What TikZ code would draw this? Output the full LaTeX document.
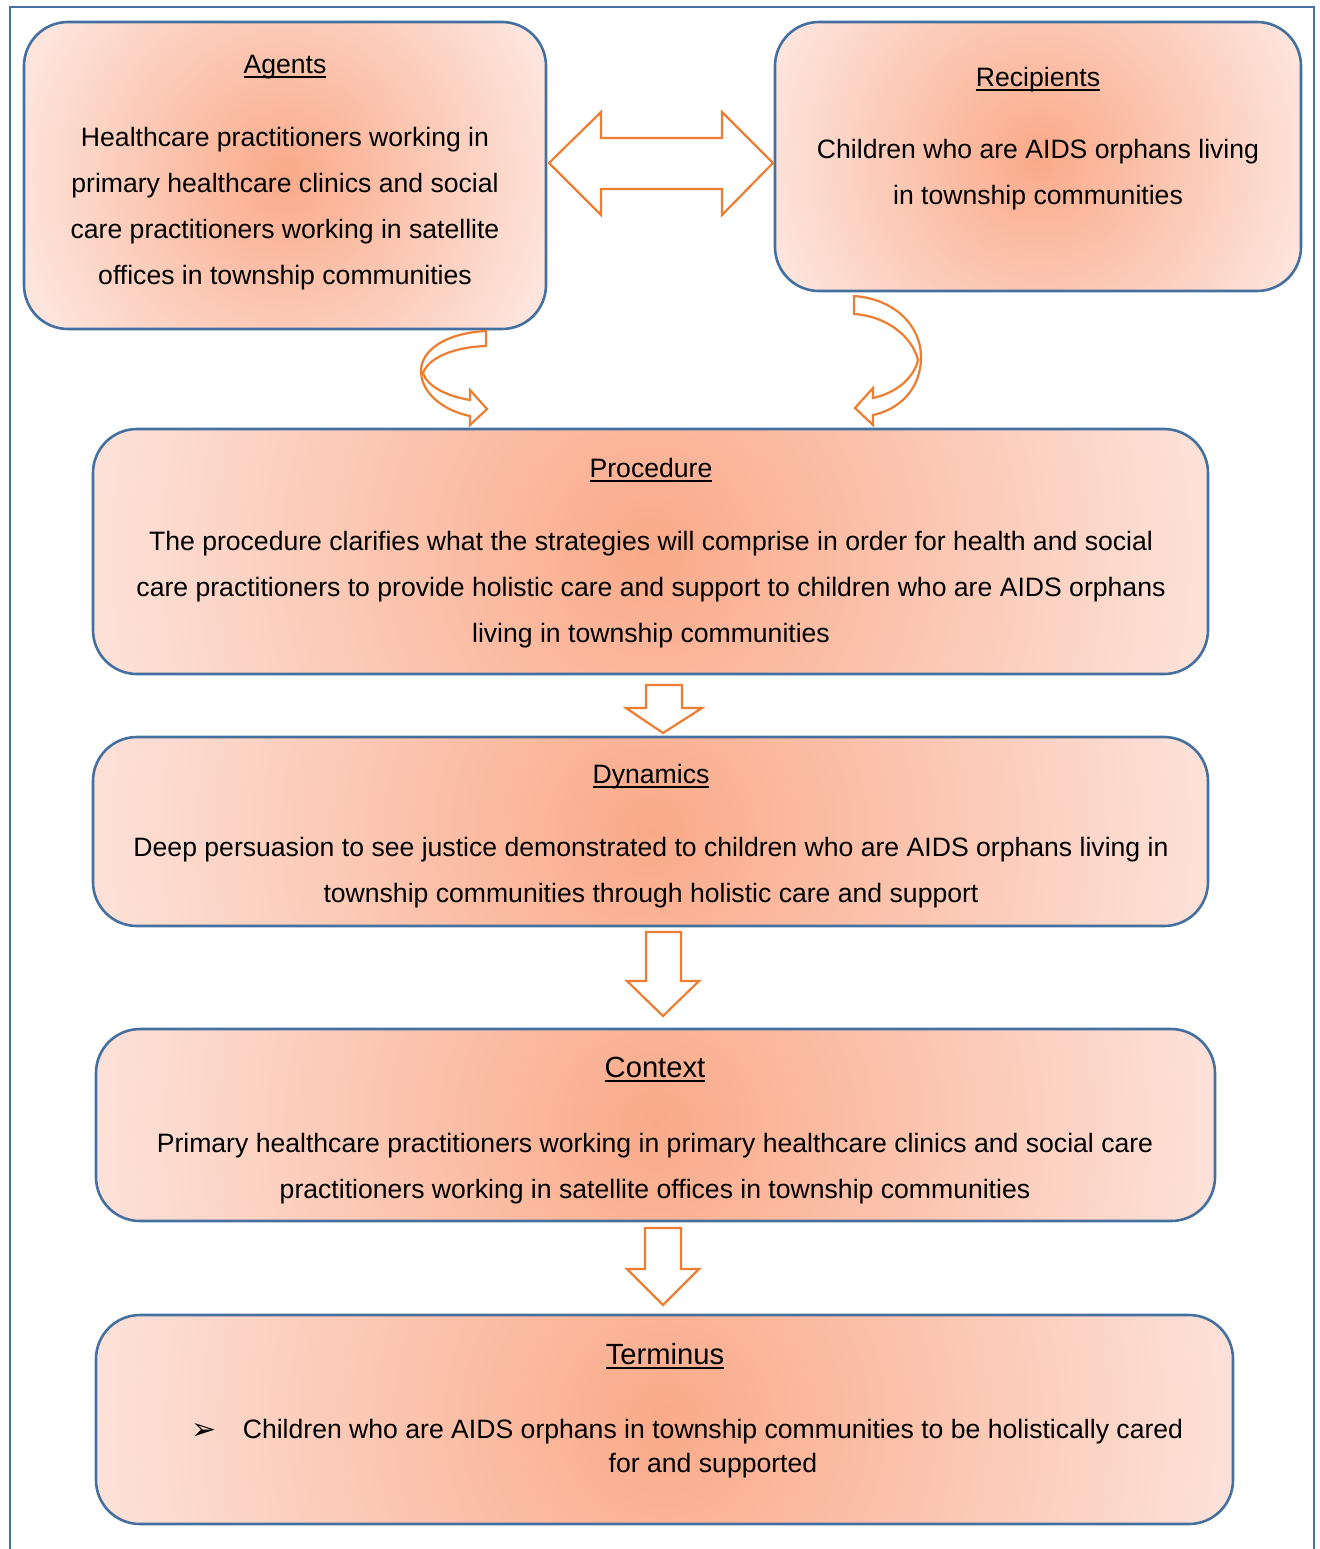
\documentclass[tikz,border=0pt]{standalone}
\usepackage{fontspec}
\setmainfont{Liberation Sans}
\newfontfamily\symfont{DejaVu Sans}
\usetikzlibrary{calc}

\definecolor{framecol}{RGB}{70,114,163}
\definecolor{edgecol}{RGB}{68,112,160}
\definecolor{arrowcol}{RGB}{237,125,49}
\definecolor{glowin}{RGB}{250,170,137}
\definecolor{glowout}{RGB}{253,228,220}

% underlined heading with a rule just below the baseline
\newsavebox\headbox
\newcommand\heading[1]{\sbox\headbox{#1}\rlap{\rule[-2.3pt]{\wd\headbox}{0.8pt}}\usebox\headbox}

\tikzset{
  panel/.style={inner sep=0pt, outer sep=0pt},
  panelrim/.style={draw=edgecol, line width=1.3pt, rounded corners=22pt},
  body/.style={anchor=base, align=center, inner sep=0pt,
    font=\fontsize{13.3}{23}\selectfont},
  title/.style={anchor=base, inner sep=0pt, font=\fontsize{13.3}{16}\selectfont},
  bigtitle/.style={anchor=base, inner sep=0pt, font=\fontsize{14.6}{17}\selectfont},
  blockarrow/.style={draw=arrowcol, fill=white, line width=1.1pt, line join=miter},
}

\begin{document}
\begin{tikzpicture}[x=0.5pt, y=-0.5pt]
\useasboundingbox (0,0) rectangle (1319,1549);

% page frame
\draw[framecol, line width=1.4pt] (10,1549) |- (1314,7) -- (1314,1549);

% panel outlines (geometry)
\node[panel, minimum width=261pt, minimum height=153.5pt] (agents) at (285,175.5) {};
\node[panel, minimum width=263pt, minimum height=134.5pt] (recip) at (1038,156.5) {};
\node[panel, minimum width=557.5pt, minimum height=122.5pt] (proc) at (650.5,551.5) {};
\node[panel, minimum width=557.5pt, minimum height=94.5pt] (dyn) at (650.5,831.5) {};
\node[panel, minimum width=559.5pt, minimum height=96pt] (ctx) at (655.5,1125) {};
\node[panel, minimum width=568.5pt, minimum height=104.5pt] (term) at (664.5,1419.5) {};

% glowing fill and rim of each panel
\foreach \pn in {agents,recip,proc,dyn,ctx,term} {
  \begin{scope}
    \clip[rounded corners=22pt] (\pn.south west) rectangle (\pn.north east);
    \fill[glowout] (\pn.south west) rectangle (\pn.north east);
    \shade[inner color=glowin, outer color=glowout]
      let \p1=($(\pn.east)-(\pn.center)$) in (\pn.center) circle ({1.05*\x1});
  \end{scope}
  \draw[panelrim] (\pn.south west) rectangle (\pn.north east);
}

% texts
\node[title] (agentsT) at (285,73) {\heading{Agents}};
\node[body] (agentsB) at (285,284) {Healthcare practitioners working in\\primary healthcare clinics and social\\care practitioners working in satellite\\offices in township communities};

\node[title] (recipT) at (1038,86) {\heading{Recipients}};
\node[body] (recipB) at (1038,204) {Children who are AIDS orphans living\\in township communities};

\node[title] (procT) at (651,477) {\heading{Procedure}};
\node[body] (procB) at (651,642) {The procedure clarifies what the strategies will comprise in order for health and social\\care practitioners to provide holistic care and support to children who are AIDS orphans\\living in township communities};

\node[title] (dynT) at (651,783) {\heading{Dynamics}};
\node[body] (dynB) at (651,902) {Deep persuasion to see justice demonstrated to children who are AIDS orphans living in\\township communities through holistic care and support};

\node[bigtitle] (ctxT) at (655,1077) {\heading{Context}};
\node[body] (ctxB) at (655,1198) {Primary healthcare practitioners working in primary healthcare clinics and social care\\practitioners working in satellite offices in township communities};

\node[bigtitle] (termT) at (665,1364) {\heading{Terminus}};
\node[anchor=center, inner sep=0pt, font=\symfont\fontsize{15}{17}\selectfont] (bullet) at (204,1431) {➢};
\node[body, font=\fontsize{13.3}{17}\selectfont] (termB) at (713,1472) {Children who are AIDS orphans in township communities to be holistically cared\\for and supported};

% two-headed arrow between agents and recipients
\draw[blockarrow] (549,163) -- (601,112) -- (601,138) -- (722,138) -- (722,112)
  -- (773,163) -- (722,215) -- (722,189) -- (601,189) -- (601,215) -- cycle;

% curved arrow from agents down to procedure
\draw[blockarrow] (486,331) .. controls (446,333) and (421,350) .. (421,371)
  .. controls (421,394) and (445,411) .. (470,416) -- (470,425) -- (487,409)
  -- (470,390) -- (470,400) .. controls (446,396) and (427,386) .. (423,373)
  .. controls (429,357) and (455,347) .. (486,346) -- cycle;

% curved arrow from recipients down to procedure
\draw[blockarrow] (854,296) .. controls (895,299) and (921,326) .. (921,357)
  .. controls (921,391) and (897,410) .. (873,415) -- (873,425) -- (855,408)
  -- (873,388) -- (873,398) .. controls (896,393) and (914,378) .. (918,360)
  .. controls (912,336) and (886,316) .. (854,314) -- cycle;

% straight down arrows
\draw[blockarrow] (646,685) -- (682,685) -- (682,708) -- (702,708) -- (663,733)
  -- (626,708) -- (646,708) -- cycle;
\draw[blockarrow] (646,932) -- (681,932) -- (681,981) -- (699,981) -- (663,1016)
  -- (627,981) -- (646,981) -- cycle;
\draw[blockarrow] (645,1228) -- (681,1228) -- (681,1269) -- (699,1269) -- (663,1305)
  -- (627,1269) -- (645,1269) -- cycle;
\end{tikzpicture}
\end{document}
